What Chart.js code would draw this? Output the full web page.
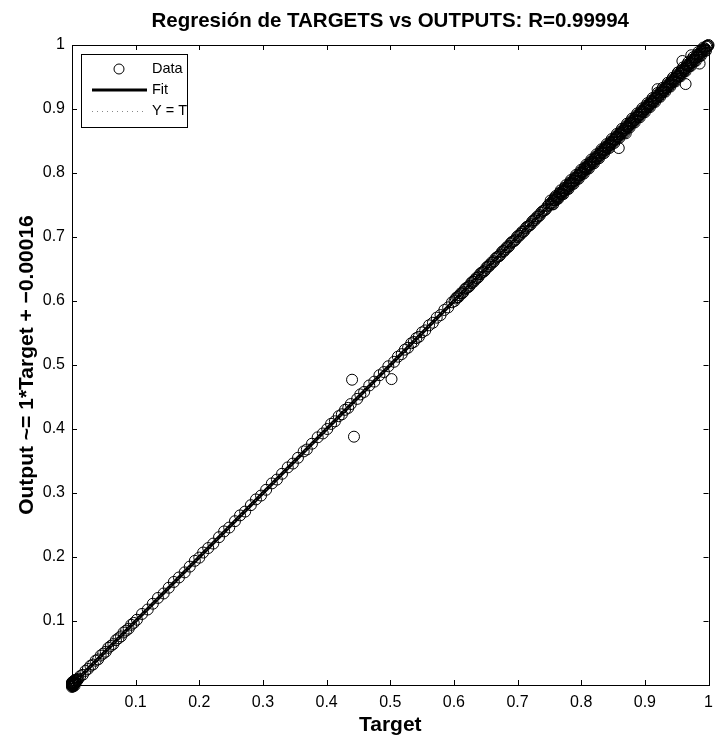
<!DOCTYPE html>
<html>
<head>
<meta charset="utf-8">
<script src="https://cdn.jsdelivr.net/npm/chart.js@4.4.1/dist/chart.umd.min.js"></script>
<style>
    html, body { margin: 0; padding: 0; background: #fff; }
    #wrap { width: 715px; height: 735px; }
</style>
</head>
<body>
<div id="wrap"><canvas id="chart" width="715" height="735"></canvas></div>
<script>
/**
 * Texts of the chart.
 */
const TITLE = 'Regresión de TARGETS vs OUTPUTS: R=0.99994';
const X_LABEL = 'Target';
const Y_LABEL = 'Output ~= 1*Target + \u22120.00016';
const LEGEND_LABELS = ['Data', 'Fit', 'Y = T'];

/**
 * Tick labels on both axes.
 */
const TICK_VALUES = [0.1, 0.2, 0.3, 0.4, 0.5, 0.6, 0.7, 0.8, 0.9, 1];

/**
 * Data points (target, output).
 * Same order in both arrays, one line of targets matches one line of outputs.
 */
const targets = [
    0, 0, 0, 0, 0, 0.001, 0.001, 0.002, 0.002, 0.003, 0.003, 0.004, 0.004, 0.005, 0.005, 0.006, 0.007, 0.008, 0.009, 0.010,
    0, 0, 0.001, 0.001, 0.002, 0.002, 0.003, 0.004, 0.005, 0.006,
    0.013, 0.017, 0.021, 0.025, 0.029, 0.033, 0.037, 0.041, 0.045, 0.049, 0.053, 0.057, 0.061, 0.065, 0.069, 0.073, 0.077, 0.081, 0.085, 0.089, 0.093, 0.097,
    0.102, 0.110, 0.119, 0.127, 0.135, 0.144, 0.152, 0.160, 0.168, 0.177, 0.185, 0.193, 0.200, 0.206, 0.214, 0.222, 0.231, 0.239, 0.247,
    0.256, 0.264, 0.272, 0.281, 0.289, 0.297, 0.305, 0.314, 0.322, 0.330, 0.339, 0.347, 0.355, 0.364, 0.369, 0.377, 0.386, 0.394,
    0.401, 0.407, 0.413, 0.419, 0.424, 0.429, 0.434, 0.438, 0.448, 0.453, 0.459, 0.467, 0.475, 0.483, 0.490, 0.497, 0.506,
    0.512, 0.518, 0.523, 0.528, 0.533, 0.537, 0.541, 0.545, 0.550, 0.555, 0.561, 0.567, 0.573, 0.579, 0.585, 0.591, 0.597,
    0.601, 0.605, 0.609, 0.613, 0.617, 0.621, 0.625, 0.629, 0.633, 0.637, 0.641, 0.645, 0.649, 0.653, 0.657, 0.661, 0.665, 0.669, 0.673,
    0.677, 0.681, 0.685, 0.689, 0.693, 0.697, 0.701, 0.705, 0.709, 0.713, 0.717, 0.721, 0.725, 0.729, 0.733, 0.737, 0.741, 0.745, 0.749,
    0.603, 0.607, 0.611, 0.615, 0.619, 0.623, 0.627, 0.631, 0.635, 0.639, 0.643, 0.647, 0.651, 0.655, 0.659, 0.663, 0.667, 0.671, 0.675,
    0.679, 0.683, 0.687, 0.691, 0.695, 0.699, 0.703, 0.707, 0.711, 0.715, 0.719, 0.723, 0.727, 0.731, 0.735, 0.739, 0.743, 0.747,
    0.752, 0.7535, 0.755, 0.7565, 0.758, 0.7595, 0.761, 0.7625, 0.764, 0.7655, 0.767, 0.7685, 0.770, 0.7715, 0.773, 0.7745, 0.776, 0.7775, 0.779, 0.7805,
    0.782, 0.7835, 0.785, 0.7865, 0.788, 0.7895, 0.791, 0.7925, 0.794, 0.7955, 0.797, 0.7985, 0.800, 0.8015, 0.803, 0.8045, 0.806, 0.8075, 0.809, 0.8105,
    0.812, 0.8135, 0.815, 0.8165, 0.818, 0.8195, 0.821, 0.8225, 0.824, 0.8255, 0.827, 0.8285, 0.830, 0.8315, 0.833, 0.8345, 0.836, 0.8375, 0.839, 0.8405,
    0.842, 0.8435, 0.845, 0.8465, 0.848, 0.8495, 0.851, 0.8525, 0.854, 0.8555, 0.857, 0.8585, 0.860, 0.8615, 0.863, 0.8645, 0.866, 0.8675, 0.869, 0.8705,
    0.872, 0.8735, 0.875, 0.8765, 0.878, 0.8795, 0.881, 0.8825, 0.884, 0.8855, 0.887, 0.8885, 0.890, 0.8915, 0.893, 0.8945, 0.896, 0.8975, 0.899, 0.9005,
    0.902, 0.9035, 0.905, 0.9065, 0.908, 0.9095, 0.911, 0.9125, 0.914, 0.9155, 0.917, 0.9185, 0.920, 0.9215, 0.923, 0.9245, 0.926, 0.9275, 0.929, 0.9305,
    0.932, 0.9335, 0.935, 0.9365, 0.938, 0.9395, 0.941, 0.9425, 0.944, 0.9455, 0.947, 0.9485, 0.950, 0.9515, 0.953, 0.9545, 0.956, 0.9575, 0.959, 0.9605,
    0.962, 0.9635, 0.965, 0.9665, 0.968, 0.9695, 0.971, 0.9725, 0.974, 0.9755, 0.977, 0.9785, 0.980, 0.9815, 0.983, 0.9845, 0.986, 0.9875, 0.989, 0.9905,
    0.992, 0.9935, 0.995, 0.9965, 0.998, 0.9995, 1.000,
    0.752, 0.756, 0.760, 0.764, 0.768, 0.772, 0.776, 0.780, 0.784, 0.788, 0.792, 0.796, 0.800, 0.804, 0.808, 0.812, 0.816, 0.820, 0.824, 0.828,
    0.832, 0.836, 0.840, 0.844, 0.848, 0.852, 0.856, 0.860, 0.864, 0.868, 0.872, 0.876, 0.880, 0.884, 0.888, 0.892, 0.896, 0.900, 0.904, 0.908,
    0.912, 0.916, 0.920, 0.924, 0.928, 0.932, 0.936, 0.940, 0.944, 0.948, 0.952, 0.956, 0.960, 0.964, 0.968, 0.972, 0.976, 0.980, 0.984, 0.988,
    0.992, 0.996,
    0.754, 0.758, 0.762, 0.766, 0.770, 0.774, 0.778, 0.782, 0.786, 0.790, 0.794, 0.798, 0.802, 0.806, 0.810, 0.814, 0.818, 0.822, 0.826, 0.830,
    0.834, 0.838, 0.842, 0.846, 0.850, 0.854, 0.858, 0.862, 0.866, 0.870, 0.874, 0.878, 0.882, 0.886, 0.890, 0.894, 0.898, 0.902, 0.906, 0.910,
    0.914, 0.918, 0.922, 0.926, 0.930, 0.934, 0.938, 0.942, 0.946, 0.950, 0.954, 0.958, 0.962, 0.966, 0.970, 0.974, 0.978, 0.982, 0.986, 0.990,
    0.994, 0.998,
    0.440, 0.502, 0.443, 0.959, 0.973, 0.986, 0.964, 0.920, 0.952, 0.859, 0.870
];
const outputs = [
    -0.003, -0.001, 0, 0.002, 0.004, -0.002, 0.003, 0, 0.005, 0.001, 0.006, 0.002, 0.007, 0.004, 0.008, 0.006, 0.007, 0.009, 0.008, 0.010,
    0.001, 0.003, -0.001, 0.004, -0.002, 0.001, 0.002, -0.001, 0.003, 0.004,
    0.014, 0.016, 0.022, 0.025, 0.030, 0.032, 0.038, 0.040, 0.046, 0.049, 0.052, 0.058, 0.061, 0.064, 0.070, 0.073, 0.076, 0.082, 0.085, 0.088, 0.094, 0.097,
    0.102, 0.111, 0.118, 0.127, 0.136, 0.143, 0.152, 0.161, 0.168, 0.176, 0.185, 0.194, 0.199, 0.207, 0.214, 0.221, 0.231, 0.240, 0.246,
    0.256, 0.265, 0.271, 0.281, 0.290, 0.296, 0.305, 0.315, 0.321, 0.330, 0.340, 0.346, 0.355, 0.365, 0.368, 0.377, 0.387, 0.393,
    0.400, 0.408, 0.412, 0.420, 0.423, 0.430, 0.433, 0.439, 0.447, 0.454, 0.458, 0.468, 0.474, 0.484, 0.489, 0.498, 0.505,
    0.513, 0.517, 0.524, 0.527, 0.534, 0.536, 0.542, 0.544, 0.551, 0.554, 0.562, 0.566, 0.574, 0.578, 0.586, 0.590, 0.598,
    0.600, 0.606, 0.609, 0.612, 0.618, 0.621, 0.624, 0.630, 0.633, 0.636, 0.642, 0.645, 0.648, 0.654, 0.657, 0.660, 0.666, 0.669, 0.672,
    0.678, 0.681, 0.684, 0.690, 0.693, 0.696, 0.702, 0.705, 0.708, 0.714, 0.717, 0.720, 0.726, 0.729, 0.732, 0.738, 0.741, 0.744, 0.750,
    0.604, 0.606, 0.612, 0.614, 0.620, 0.622, 0.628, 0.630, 0.636, 0.638, 0.644, 0.646, 0.652, 0.654, 0.660, 0.662, 0.668, 0.670, 0.676,
    0.678, 0.684, 0.686, 0.692, 0.694, 0.700, 0.702, 0.708, 0.710, 0.716, 0.718, 0.724, 0.726, 0.732, 0.734, 0.740, 0.742, 0.748,
    0.753, 0.7525, 0.754, 0.7575, 0.758, 0.7575, 0.762, 0.7615, 0.763, 0.7675, 0.767, 0.7665, 0.771, 0.7705, 0.772, 0.7765, 0.776, 0.7755, 0.780, 0.7795,
    0.783, 0.7825, 0.784, 0.7875, 0.788, 0.7875, 0.792, 0.7915, 0.793, 0.7965, 0.797, 0.7965, 0.801, 0.8005, 0.802, 0.8065, 0.806, 0.8055, 0.810, 0.8095,
    0.813, 0.8125, 0.814, 0.8175, 0.818, 0.8175, 0.822, 0.8215, 0.823, 0.8265, 0.827, 0.8265, 0.831, 0.8305, 0.832, 0.8365, 0.836, 0.8355, 0.840, 0.8395,
    0.843, 0.8425, 0.844, 0.8475, 0.848, 0.8485, 0.852, 0.8515, 0.853, 0.8565, 0.857, 0.8575, 0.861, 0.8605, 0.862, 0.8655, 0.866, 0.8665, 0.870, 0.8695,
    0.873, 0.8725, 0.874, 0.8775, 0.878, 0.8785, 0.882, 0.8815, 0.883, 0.8865, 0.887, 0.8875, 0.891, 0.8905, 0.892, 0.8955, 0.896, 0.8965, 0.900, 0.8995,
    0.903, 0.9025, 0.904, 0.9075, 0.908, 0.9085, 0.912, 0.9115, 0.913, 0.9165, 0.917, 0.9175, 0.921, 0.9205, 0.922, 0.9255, 0.926, 0.9265, 0.930, 0.9295,
    0.933, 0.9325, 0.934, 0.9375, 0.938, 0.9385, 0.942, 0.9415, 0.943, 0.9465, 0.947, 0.9475, 0.951, 0.9505, 0.952, 0.9555, 0.956, 0.9565, 0.960, 0.9595,
    0.963, 0.9625, 0.964, 0.9675, 0.968, 0.9685, 0.972, 0.9715, 0.973, 0.9765, 0.977, 0.9775, 0.981, 0.9805, 0.982, 0.9855, 0.986, 0.9865, 0.990, 0.9895,
    0.993, 0.9925, 0.994, 0.9975, 0.998, 0.9985, 1.000,
    0.757, 0.751, 0.764, 0.760, 0.773, 0.767, 0.781, 0.775, 0.789, 0.783, 0.797, 0.791, 0.805, 0.799, 0.813, 0.807, 0.821, 0.815, 0.829, 0.823,
    0.837, 0.831, 0.845, 0.839, 0.853, 0.847, 0.861, 0.855, 0.869, 0.863, 0.877, 0.871, 0.885, 0.879, 0.893, 0.887, 0.901, 0.895, 0.909, 0.903,
    0.917, 0.911, 0.925, 0.919, 0.933, 0.927, 0.941, 0.935, 0.949, 0.943, 0.957, 0.951, 0.965, 0.959, 0.973, 0.967, 0.981, 0.975, 0.989, 0.983,
    0.996, 0.991,
    0.751, 0.761, 0.759, 0.769, 0.767, 0.777, 0.775, 0.785, 0.783, 0.793, 0.791, 0.801, 0.799, 0.809, 0.807, 0.817, 0.815, 0.825, 0.823, 0.833,
    0.831, 0.841, 0.839, 0.849, 0.847, 0.857, 0.855, 0.865, 0.863, 0.873, 0.871, 0.881, 0.879, 0.889, 0.887, 0.897, 0.895, 0.905, 0.903, 0.913,
    0.911, 0.921, 0.919, 0.929, 0.927, 0.937, 0.935, 0.945, 0.943, 0.953, 0.951, 0.961, 0.959, 0.969, 0.967, 0.977, 0.975, 0.985, 0.983, 0.993,
    0.991, 0.999,
    0.477, 0.478, 0.388, 0.975, 0.984, 0.971, 0.939, 0.931, 0.957, 0.839, 0.862
];

/**
 * Fit line and the Y = T line (end points).
 */
const fitX = [0, 1];
const fitY = [-0.00016, 0.99984];
const identityX = [0, 1];
const identityY = [0, 1];

const FONT = '"Liberation Sans", Arial, Helvetica, sans-serif';

const zip = (xs, ys) => xs.map((x, i) => ({x, y: ys[i]}));

const formatTick = (v) => (v === 1 ? '1' : v.toFixed(1));

/**
 * Axes box, inner ticks on all four sides, titles and the legend.
 */
const matlabAxes = {
    id: 'matlabAxes',
    beforeDatasetsDraw(chart) {
        const {ctx, chartArea: a, scales: {x, y}} = chart;
        const tick = 5;
        ctx.save();
        ctx.strokeStyle = '#000';
        ctx.lineWidth = 1;
        ctx.beginPath();
        TICK_VALUES.forEach((v) => {
            const px = Math.round(x.getPixelForValue(v)) + 0.5;
            const py = Math.round(y.getPixelForValue(v)) + 0.5;
            ctx.moveTo(px, a.bottom);
            ctx.lineTo(px, a.bottom - tick);
            ctx.moveTo(px, a.top);
            ctx.lineTo(px, a.top + tick);
            ctx.moveTo(a.left, py);
            ctx.lineTo(a.left + tick, py);
            ctx.moveTo(a.right, py);
            ctx.lineTo(a.right - tick, py);
        });
        ctx.stroke();
        ctx.strokeRect(Math.round(a.left) + 0.5, Math.round(a.top) + 0.5,
            Math.round(a.right - a.left), Math.round(a.bottom - a.top));
        ctx.restore();
    },
    afterDraw(chart) {
        const {ctx, chartArea: a} = chart;
        const cx = (a.left + a.right) / 2;
        ctx.save();
        ctx.fillStyle = '#000';
        ctx.textAlign = 'center';
        ctx.textBaseline = 'alphabetic';

        ctx.font = 'bold 20.5px ' + FONT;
        ctx.fillText(TITLE, cx, 27);

        ctx.font = 'bold 21px ' + FONT;
        ctx.fillText(X_LABEL, cx, 731);

        ctx.save();
        ctx.translate(33, (a.top + a.bottom) / 2);
        ctx.rotate(-Math.PI / 2);
        ctx.fillText(Y_LABEL, 0, 0);
        ctx.restore();

        // legend
        const box = {left: 81, top: 54, right: 187, bottom: 127};
        ctx.fillStyle = '#fff';
        ctx.fillRect(box.left, box.top, box.right - box.left, box.bottom - box.top);
        ctx.strokeStyle = '#000';
        ctx.lineWidth = 1;
        ctx.strokeRect(box.left + 0.5, box.top + 0.5, box.right - box.left, box.bottom - box.top);

        const rows = [69, 90, 111];
        ctx.beginPath();
        ctx.arc(119, rows[0], 5, 0, Math.PI * 2);
        ctx.stroke();

        ctx.lineWidth = 3;
        ctx.beginPath();
        ctx.moveTo(92, rows[1]);
        ctx.lineTo(147, rows[1]);
        ctx.stroke();

        ctx.lineWidth = 1;
        ctx.strokeStyle = '#888';
        ctx.setLineDash([1, 4]);
        ctx.beginPath();
        ctx.moveTo(92, rows[2] + 0.5);
        ctx.lineTo(147, rows[2] + 0.5);
        ctx.stroke();
        ctx.setLineDash([]);

        ctx.fillStyle = '#000';
        ctx.textAlign = 'left';
        ctx.textBaseline = 'middle';
        ctx.font = '14.5px ' + FONT;
        LEGEND_LABELS.forEach((t, i) => ctx.fillText(t, 152, rows[i]));
        ctx.restore();
    }
};

const axisOptions = (size) => ({
    type: 'linear',
    min: 0,
    max: 1,
    grid: {display: false, drawTicks: false},
    border: {display: false},
    ticks: {
        color: '#000',
        font: {family: FONT, size: 16},
        autoSkip: false,
        maxRotation: 0,
        callback: (v) => formatTick(v)
    },
    afterBuildTicks: (scale) => {
        scale.ticks = TICK_VALUES.map((value) => ({value}));
    },
    afterFit: (scale) => {
        size(scale);
        scale.paddingLeft = scale.paddingRight = 0;
        scale.paddingTop = scale.paddingBottom = 0;
    }
});

const onDOMLoaded = () => {
    const ctx = document.getElementById('chart').getContext('2d');
    const xAxis = axisOptions((s) => { s.height = 50; });
    xAxis.ticks.padding = 8;
    const yAxis = axisOptions((s) => { s.width = 72; });
    yAxis.ticks.padding = 7;

    new Chart(ctx, {
        type: 'scatter',
        data: {
            datasets: [
                {
                    label: 'Data',
                    data: zip(targets, outputs),
                    pointStyle: 'circle',
                    pointRadius: 5.5,
                    borderWidth: 1,
                    borderColor: '#000',
                    backgroundColor: 'rgba(0,0,0,0)',
                    clip: false,
                    order: 3
                },
                {
                    label: 'Fit',
                    type: 'line',
                    data: zip(fitX, fitY),
                    borderColor: '#000',
                    borderWidth: 3.5,
                    pointRadius: 0,
                    clip: false,
                    order: 2
                },
                {
                    label: 'Y = T',
                    type: 'line',
                    data: zip(identityX, identityY),
                    borderColor: '#888',
                    borderWidth: 1,
                    borderDash: [1, 4],
                    pointRadius: 0,
                    order: 1
                }
            ]
        },
        options: {
            responsive: false,
            animation: false,
            devicePixelRatio: 1,
            layout: {padding: {left: 0, top: 45, right: 5, bottom: 0}},
            plugins: {
                legend: {display: false},
                title: {display: false},
                tooltip: {enabled: false}
            },
            scales: {x: xAxis, y: yAxis}
        },
        plugins: [matlabAxes]
    });
};

document.addEventListener('DOMContentLoaded', onDOMLoaded);
</script>
</body>
</html>
